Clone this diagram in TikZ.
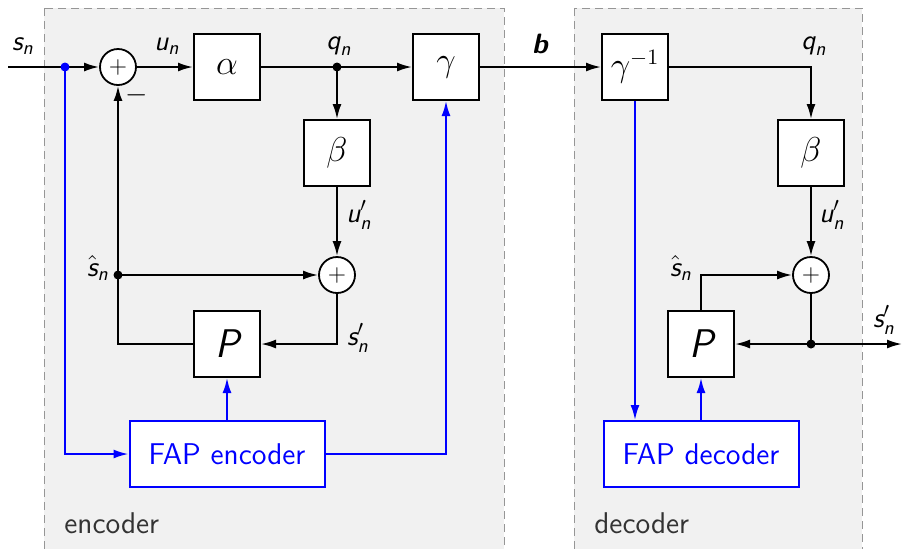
\documentclass[tikz,border=0pt]{standalone}
\usepackage{amsmath}
\usetikzlibrary{arrows.meta,calc}
\newcommand{\sv}[1]{\text{\sffamily\slshape #1}}
\newcommand{\svb}[1]{\text{\sffamily\bfseries\slshape #1}}
\definecolor{regfill}{RGB}{241,241,241}
\definecolor{regline}{RGB}{150,150,150}
\definecolor{regtext}{RGB}{51,51,51}
\begin{document}
\begin{tikzpicture}[x=0.5pt,y=-0.5pt,
  blk/.style={draw,line width=1pt,fill=white,minimum size=33pt,inner sep=0pt,font=\fontsize{16}{19}\selectfont},
  pblk/.style={blk,font=\sffamily\slshape\fontsize{20}{24}\selectfont},
  sumc/.style={draw,circle,fill=white,line width=0.9pt,minimum size=18pt,inner sep=0pt,font=\fontsize{13}{15}\selectfont},
  wire/.style={line width=1pt},
  sig/.style={wire,-{Latex[length=7.5pt,width=4.5pt]}},
  fapbox/.style={draw=blue,line width=1pt,fill=white,text=blue,minimum width=97.5pt,minimum height=33pt,inner sep=0pt,font=\sffamily\fontsize{15}{18}\selectfont},
  lbl/.style={font=\fontsize{14}{16}\selectfont,inner sep=0pt},
  region/.style={fill=regfill,draw=regline,line width=0.5pt,dash pattern=on 4pt off 2.5pt},
  regionlbl/.style={text=regtext,font=\sffamily\fontsize{15}{18}\selectfont,anchor=west,inner sep=0pt},
  dotn/.style={circle,fill,inner sep=0pt,minimum size=4.5pt}
]
\useasboundingbox (0,0) rectangle (902,548);
\begin{scope}
\clip (0,0) rectangle (902,548);
\draw[region] (44,8) rectangle (504,560);
\draw[region] (574,8) rectangle (862,560);
\end{scope}
\node[regionlbl] (enclbl) at (64,523) {encoder};
\node[regionlbl] (declbl) at (594,523) {decoder};

% encoder nodes
\coordinate (in) at (8,67);
\coordinate (bdc) at (65,67);
\node[sumc] (s1) at (118,67) {$+$};
\node[blk] (alpha) at (227,67) {$\alpha$};
\coordinate (qc) at (337,67);
\node[blk] (gam) at (446,67) {$\gamma$};
\node[blk] (beta) at (337,153) {$\beta$};
\node[sumc] (s2) at (337,275) {$+$};
\coordinate (shc) at (118,275);
\node[pblk] (P) at (227,344) {P};
\node[fapbox] (fape) at (227,454) {FAP encoder};

% decoder nodes
\node[blk] (gi) at (635,67) {$\gamma^{-1}$};
\node[blk] (beta2) at (811,153) {$\beta$};
\node[sumc] (s3) at (811,275) {$+$};
\node[pblk] (P2) at (701,344) {P};
\coordinate (odc) at (811,344);
\coordinate (out) at (902,344);
\node[fapbox] (fapd) at (701,454) {FAP decoder};

% encoder wires
\draw[sig] (in) -- (s1.west);
\draw[sig] (s1) -- (alpha);
\draw[wire] (alpha) -- (qc);
\draw[sig] (qc) -- (gam);
\draw[sig] (qc) -- (beta);
\draw[sig] (beta) -- (s2);
\draw[sig] (shc) -- (s2);
\draw[sig] (shc) -- (s1);
\draw[wire] (shc) |- (P.west);
\draw[sig] (s2.south) |- (P.east);
\draw[sig] (gam) -- (gi);
\draw[sig,blue] (bdc) |- (fape.west);
\draw[sig,blue] (fape) -- (P);
\draw[sig,blue] (fape.east) -| (gam.south);

% decoder wires
\draw[sig] (gi.east) -| (beta2.north);
\draw[sig] (beta2) -- (s3);
\draw[sig] (P2.north) |- (s3.west);
\draw[wire] (s3) -- (odc);
\draw[sig] (odc) -- (P2.east);
\draw[sig] (odc) -- (out);
\draw[sig,blue] (gi.south) -- (gi.south |- fapd.north);
\draw[sig,blue] (fapd) -- (P2);

% dots
\node[dotn,blue] (bd) at (bdc) {};
\node[dotn] (qd) at (qc) {};
\node[dotn] (shd) at (shc) {};
\node[dotn] (od) at (odc) {};

% labels
\node[lbl] (l-sn) at (23,46) {$\sv{s}_{\sv{n}}$};
\node[lbl] (l-un) at (167,46) {$\sv{u}_{\sv{n}}$};
\node[lbl] (l-qn) at (339,46) {$\sv{q}_{\sv{n}}$};
\node[lbl] (l-b) at (540,44) {$\svb{b}$};
\node[lbl] (l-qn2) at (814,46) {$\sv{q}_{\sv{n}}$};
\node[lbl] (l-minus) at (137,95) {$-$};
\node[lbl] (l-up) at (359,215) {$\sv{u}'_{\sv{n}}$};
\node[lbl] (l-up2) at (832,215) {$\sv{u}'_{\sv{n}}$};
\node[lbl] (l-sh) at (98,268) {$\hat{\sv{s}}_{\sv{n}}$};
\node[lbl] (l-sp) at (358,338) {$\sv{s}'_{\sv{n}}$};
\node[lbl] (l-sh2) at (681,268) {$\hat{\sv{s}}_{\sv{n}}$};
\node[lbl] (l-sp2) at (884,320) {$\sv{s}'_{\sv{n}}$};
\end{tikzpicture}
\end{document}
